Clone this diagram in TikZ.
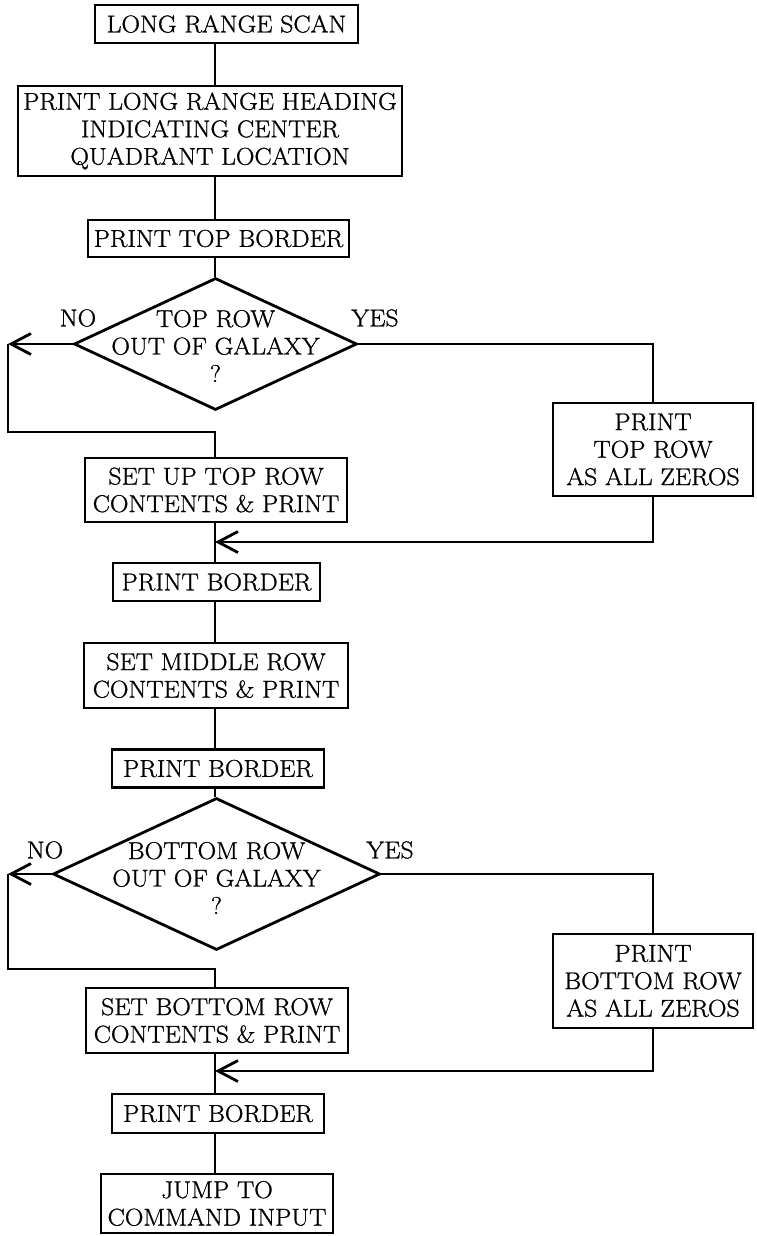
\documentclass[tikz,border=0pt]{standalone}
\usepackage{fontspec}
\setmainfont{Latin Modern Roman}[FakeStretch=1.06,FakeBold=1]
\usetikzlibrary{arrows.meta,shapes.geometric}
\begin{document}
\begin{tikzpicture}[x=1pt,y=-1pt,
  every node/.style={font=\fontsize{24.3}{27.5}\selectfont, align=center, inner sep=0pt},
  box/.style={draw, line width=2.8pt},
  dia/.style={draw, shape=diamond, line width=2.8pt, inner sep=0pt},
  ln/.style={line width=2.8pt},
  arr/.style={line width=2.8pt, -{Straight Barb[length=20pt,width=21pt,line width=2.8pt]}}]
\useasboundingbox (0,0) rectangle (756,1236);
\fill[white] (0,0) rectangle (756,1236);

\node[box, minimum width=263pt, minimum height=38pt] (b1) at (226.5,24) {LONG RANGE SCAN};
\node[box, minimum width=384pt, minimum height=90pt] (b2) at (210,131) {PRINT LONG RANGE HEADING\\INDICATING CENTER\\QUADRANT LOCATION};
\node[box, minimum width=261pt, minimum height=37pt] (b3) at (218.5,238.5) {PRINT TOP BORDER};
\node[dia, minimum width=283pt, minimum height=132pt] (d1) at (215.5,344) {};
\node (t1) at (215.5,346) {TOP ROW\\OUT OF GALAXY\\?};
\node (no1) at (78,318) {NO};
\node (yes1) at (375,318) {YES};
\node[box, minimum width=262pt, minimum height=64pt] (b4) at (216,490) {SET UP TOP ROW\\CONTENTS \& PRINT};
\node[box, minimum width=200pt, minimum height=93pt] (z1) at (653,449.5) {PRINT\\TOP ROW\\AS ALL ZEROS};
\node[box, minimum width=207pt, minimum height=38pt] (b5) at (216.5,582) {PRINT BORDER};
\node[box, minimum width=264pt, minimum height=65pt] (b6) at (216,675.5) {SET MIDDLE ROW\\CONTENTS \& PRINT};
\node[box, minimum width=212pt, minimum height=38pt] (b7) at (218,768.5) {PRINT BORDER};
\node[dia, minimum width=327pt, minimum height=152pt] (d2) at (216.5,874) {};
\node (t2) at (216.5,878) {BOTTOM ROW\\OUT OF GALAXY\\?};
\node (no2) at (45,850) {NO};
\node (yes2) at (390,850) {YES};
\node[box, minimum width=262pt, minimum height=65pt] (b8) at (217,1020.5) {SET BOTTOM ROW\\CONTENTS \& PRINT};
\node[box, minimum width=200pt, minimum height=94pt] (z2) at (653,981) {PRINT\\BOTTOM ROW\\AS ALL ZEROS};
\node[box, minimum width=212pt, minimum height=39pt] (b9) at (218,1113.5) {PRINT BORDER};
\node[box, minimum width=232pt, minimum height=59pt] (b10) at (217,1203.5) {JUMP TO\\COMMAND INPUT};

\coordinate (sp) at (215,0);
\coordinate (l1) at (8,344);
\coordinate (j1) at (215,432);
\coordinate (m1) at (215,542);
\coordinate (l2) at (8,874);
\coordinate (j2) at (215,969);
\coordinate (m2) at (215,1071);

\draw[ln] (b1.south -| sp) -- (b2.north -| sp);
\draw[ln] (b2.south -| sp) -- (b3.north -| sp);
\draw[ln] (b3.south -| sp) -- (d1.north -| sp);
\draw[arr] (d1.west) -- (l1);
\draw[ln] (l1) |- (j1) -- (b4.north -| sp);
\draw[ln] (d1.east) -| (z1.north);
\draw[arr] (z1.south) |- (m1);
\draw[ln] (b4.south -| sp) -- (b5.north -| sp);
\draw[ln] (b5.south -| sp) -- (b6.north -| sp);
\draw[ln] (b6.south -| sp) -- (b7.north -| sp);
\draw[ln] (b7.south -| sp) -- (d2.north -| sp);
\draw[arr] (d2.west) -- (l2);
\draw[ln] (l2) |- (j2) -- (b8.north -| sp);
\draw[ln] (d2.east) -| (z2.north);
\draw[arr] (z2.south) |- (m2);
\draw[ln] (b8.south -| sp) -- (b9.north -| sp);
\draw[ln] (b9.south -| sp) -- (b10.north -| sp);
\end{tikzpicture}
\end{document}
